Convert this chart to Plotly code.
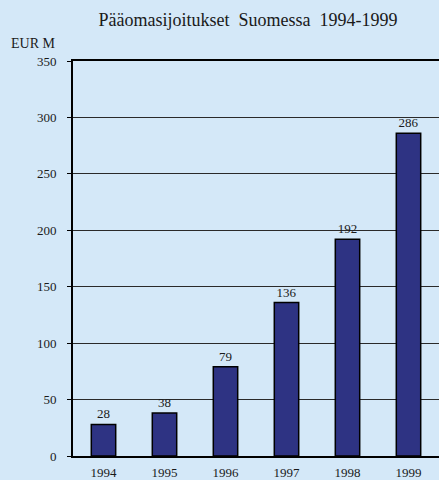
import plotly.graph_objects as go

years = ["1994", "1995", "1996", "1997", "1998", "1999"]
values = [28, 38, 79, 136, 192, 286]
y_ticks = [0, 50, 100, 150, 200, 250, 300, 350]

bg = "#d4e8f8"
font_family = "Liberation Serif, Times New Roman, DejaVu Serif, serif"

fig = go.Figure()
fig.add_trace(go.Bar(
    x=years, y=values,
    marker=dict(color="#2e3383", line=dict(color="black", width=1.5)),
    width=0.4,
    text=[str(v) for v in values],
    textposition="outside",
    textfont=dict(family=font_family, size=13, color="#1a1a1a"),
    cliponaxis=False,
))

fig.update_layout(
    width=439, height=480,
    paper_bgcolor=bg, plot_bgcolor=bg,
    margin=dict(l=73, r=0, t=61, b=24),
    showlegend=False,
    font=dict(family=font_family, color="#1a1a1a"),
    title=dict(text="Pääomasijoitukset  Suomessa  1994-1999",
               x=0.565, xanchor="center", y=0.958, yanchor="middle",
               font=dict(family=font_family, size=18, color="#1a1a1a")),
    annotations=[dict(text="EUR M", xref="paper", yref="paper",
                      x=-0.04, y=1.045, xanchor="right", yanchor="middle",
                      showarrow=False,
                      font=dict(family=font_family, size=14, color="#1a1a1a"))],
)
fig.update_xaxes(
    type="category", range=[-0.5, 5.5],
    showgrid=False, showline=True, linecolor="black", linewidth=2,
    mirror=True,
    ticks="outside", ticklen=3, tickcolor=bg,
    tickfont=dict(family=font_family, size=13, color="#1a1a1a"),
)
fig.update_yaxes(
    range=[0, 350], tickvals=y_ticks,
    showgrid=True, gridcolor="#2a2a2a", gridwidth=1.3,
    showline=True, linecolor="black", linewidth=2,
    ticks="outside", ticklen=4, tickcolor="black",
    ticklabelstandoff=8,
    tickfont=dict(family=font_family, size=13, color="#1a1a1a"),
    zeroline=False,
)

fig.write_html(
    "out.html",
    config={"displayModeBar": False},
    post_script="document.body.style.margin='0';document.body.style.overflow='hidden';",
)
